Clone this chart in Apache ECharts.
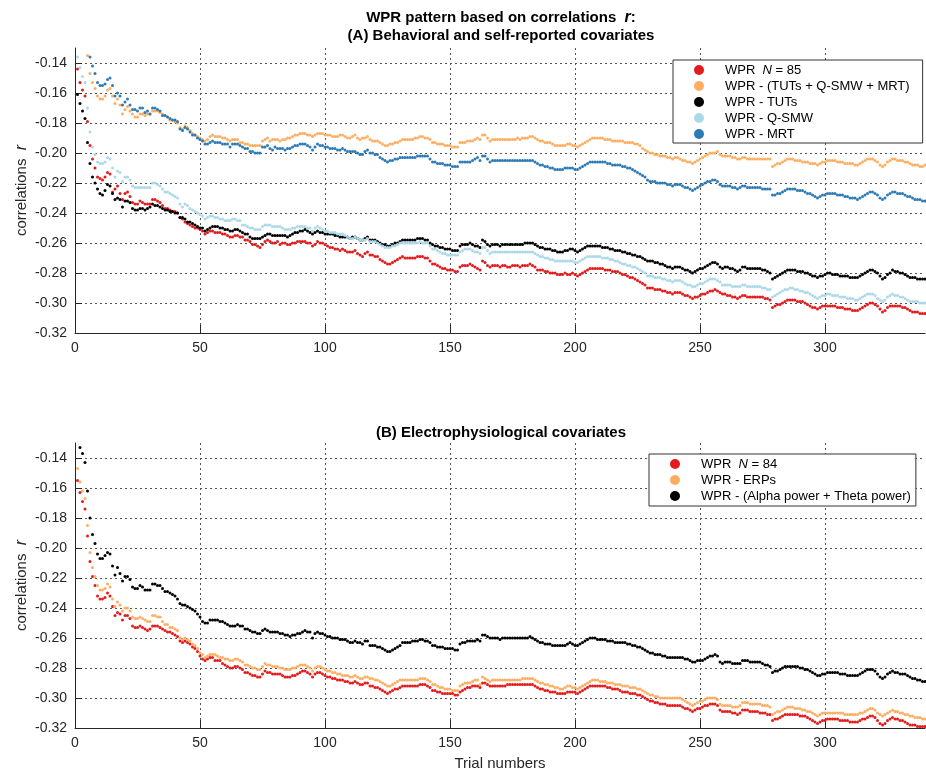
<!DOCTYPE html>
<html>
<head>
<meta charset="utf-8">
<script src="https://cdn.jsdelivr.net/npm/echarts@6/dist/echarts.min.js"></script>
<style>
html,body{margin:0;padding:0;background:#fff;}
#chart{width:926px;height:769px;}
</style>
</head>
<body>
<div id="chart"></div>
<script>
// x ticks for both panels
var xTicks = [0, 50, 100, 150, 200, 250, 300];
// y ticks for both panels
var yTicks = [-0.32, -0.30, -0.28, -0.26, -0.24, -0.22, -0.20, -0.18, -0.16, -0.14];

// (A) behavioral and self-reported covariates, trials 1..340
var namesA = ['WPR  N = 85', 'WPR - (TUTs + Q-SMW + MRT)', 'WPR - TUTs', 'WPR - Q-SMW', 'WPR - MRT'];
var redA = [
-.144,-.153,-.158,-.162,-.179,-.195,-.204,-.210,-.216,-.217,
-.218,-.216,-.213,-.214,-.226,-.224,-.222,-.227,-.231,-.227,
-.226,-.229,-.233,-.234,-.234,-.232,-.233,-.234,-.234,-.234,
-.231,-.231,-.232,-.233,-.235,-.237,-.237,-.238,-.239,-.239,
-.240,-.243,-.244,-.246,-.247,-.248,-.249,-.250,-.250,-.251,
-.252,-.254,-.253,-.252,-.252,-.253,-.253,-.253,-.254,-.254,
-.255,-.256,-.256,-.255,-.255,-.256,-.256,-.258,-.258,-.259,
-.261,-.261,-.262,-.263,-.261,-.259,-.258,-.259,-.260,-.260,
-.259,-.261,-.260,-.260,-.261,-.261,-.260,-.260,-.259,-.259,
-.259,-.259,-.260,-.260,-.262,-.261,-.259,-.260,-.260,-.261,
-.262,-.263,-.263,-.264,-.264,-.265,-.264,-.265,-.266,-.266,
-.266,-.265,-.267,-.268,-.269,-.267,-.266,-.268,-.268,-.269,
-.269,-.271,-.272,-.273,-.274,-.274,-.273,-.272,-.271,-.270,
-.269,-.270,-.270,-.270,-.270,-.270,-.269,-.269,-.269,-.270,
-.270,-.272,-.274,-.274,-.275,-.276,-.277,-.277,-.278,-.278,
-.278,-.279,-.279,-.276,-.275,-.275,-.275,-.274,-.275,-.276,
-.277,-.278,-.272,-.273,-.275,-.276,-.275,-.275,-.275,-.276,
-.275,-.275,-.276,-.276,-.275,-.275,-.275,-.276,-.275,-.275,
-.275,-.274,-.275,-.276,-.278,-.278,-.278,-.279,-.279,-.280,
-.280,-.280,-.281,-.281,-.281,-.280,-.281,-.281,-.280,-.281,
-.282,-.281,-.280,-.279,-.278,-.277,-.277,-.277,-.277,-.277,
-.277,-.278,-.278,-.278,-.279,-.279,-.279,-.280,-.281,-.281,
-.282,-.283,-.283,-.284,-.285,-.286,-.287,-.288,-.290,-.290,
-.290,-.291,-.291,-.291,-.292,-.292,-.293,-.293,-.294,-.293,
-.293,-.293,-.294,-.295,-.295,-.296,-.297,-.296,-.296,-.295,
-.294,-.294,-.293,-.292,-.292,-.291,-.292,-.293,-.294,-.294,
-.295,-.295,-.296,-.296,-.297,-.296,-.295,-.295,-.296,-.296,
-.296,-.296,-.296,-.296,-.296,-.297,-.297,-.298,-.303,-.302,
-.301,-.301,-.300,-.299,-.298,-.298,-.298,-.298,-.299,-.299,
-.299,-.300,-.301,-.302,-.303,-.303,-.304,-.303,-.302,-.302,
-.302,-.302,-.302,-.302,-.303,-.303,-.303,-.304,-.304,-.304,
-.305,-.305,-.305,-.304,-.303,-.302,-.301,-.300,-.300,-.301,
-.302,-.304,-.306,-.305,-.303,-.302,-.302,-.302,-.302,-.302,
-.303,-.303,-.304,-.305,-.306,-.306,-.306,-.307,-.307,-.307];
var allCovA = [
-.111,-.116,-.119,-.121,-.135,-.147,-.153,-.157,-.162,-.164,
-.164,-.162,-.158,-.157,-.162,-.167,-.164,-.168,-.174,-.171,
-.169,-.172,-.174,-.176,-.176,-.174,-.174,-.175,-.174,-.174,
-.172,-.172,-.172,-.173,-.174,-.175,-.176,-.178,-.178,-.179,
-.180,-.183,-.184,-.182,-.183,-.185,-.187,-.188,-.189,-.190,
-.191,-.192,-.191,-.189,-.188,-.189,-.189,-.189,-.190,-.190,
-.191,-.192,-.191,-.191,-.191,-.193,-.193,-.194,-.194,-.195,
-.195,-.195,-.195,-.195,-.192,-.191,-.190,-.192,-.191,-.191,
-.191,-.192,-.191,-.191,-.190,-.190,-.189,-.188,-.188,-.187,
-.187,-.187,-.188,-.188,-.189,-.188,-.187,-.187,-.187,-.188,
-.188,-.188,-.189,-.189,-.189,-.188,-.188,-.189,-.190,-.190,
-.189,-.188,-.190,-.191,-.190,-.190,-.189,-.191,-.192,-.192,
-.192,-.193,-.194,-.195,-.195,-.194,-.194,-.193,-.193,-.192,
-.191,-.191,-.191,-.191,-.191,-.190,-.190,-.189,-.189,-.190,
-.190,-.191,-.193,-.193,-.194,-.194,-.194,-.195,-.195,-.195,
-.196,-.196,-.196,-.193,-.193,-.193,-.192,-.192,-.192,-.191,
-.190,-.191,-.188,-.188,-.190,-.192,-.191,-.191,-.191,-.191,
-.191,-.191,-.191,-.191,-.191,-.191,-.190,-.191,-.190,-.190,
-.190,-.189,-.189,-.190,-.191,-.192,-.192,-.193,-.193,-.193,
-.194,-.195,-.195,-.195,-.195,-.195,-.194,-.194,-.195,-.195,
-.196,-.195,-.194,-.193,-.192,-.191,-.190,-.190,-.190,-.190,
-.190,-.191,-.191,-.191,-.192,-.192,-.192,-.192,-.192,-.193,
-.193,-.193,-.193,-.194,-.194,-.195,-.197,-.198,-.199,-.200,
-.200,-.201,-.201,-.202,-.202,-.202,-.203,-.203,-.204,-.203,
-.203,-.204,-.205,-.205,-.206,-.206,-.207,-.206,-.205,-.204,
-.203,-.202,-.201,-.200,-.200,-.200,-.199,-.201,-.202,-.202,
-.202,-.202,-.203,-.203,-.204,-.204,-.203,-.203,-.204,-.204,
-.204,-.204,-.204,-.204,-.204,-.204,-.204,-.204,-.209,-.208,
-.207,-.207,-.206,-.205,-.204,-.204,-.204,-.205,-.205,-.205,
-.206,-.206,-.206,-.207,-.207,-.207,-.208,-.207,-.206,-.206,
-.205,-.205,-.205,-.205,-.206,-.206,-.206,-.207,-.207,-.207,
-.207,-.208,-.208,-.207,-.206,-.205,-.204,-.204,-.204,-.205,
-.206,-.208,-.209,-.208,-.206,-.205,-.204,-.204,-.205,-.205,
-.205,-.206,-.206,-.207,-.208,-.208,-.208,-.209,-.209,-.208];
var tutsA = [
-.161,-.167,-.172,-.177,-.193,-.207,-.216,-.220,-.224,-.227,
-.228,-.225,-.221,-.222,-.227,-.231,-.230,-.231,-.236,-.232,
-.232,-.233,-.237,-.238,-.238,-.237,-.237,-.238,-.237,-.236,
-.234,-.235,-.235,-.236,-.237,-.238,-.238,-.239,-.239,-.240,
-.240,-.243,-.243,-.244,-.246,-.246,-.247,-.248,-.249,-.250,
-.250,-.252,-.251,-.250,-.249,-.249,-.249,-.250,-.250,-.251,
-.251,-.252,-.252,-.251,-.251,-.252,-.253,-.254,-.254,-.256,
-.257,-.257,-.257,-.257,-.256,-.255,-.254,-.254,-.255,-.255,
-.255,-.255,-.255,-.255,-.256,-.255,-.254,-.253,-.253,-.252,
-.252,-.251,-.252,-.253,-.254,-.253,-.252,-.253,-.253,-.254,
-.254,-.254,-.254,-.255,-.255,-.256,-.256,-.256,-.256,-.257,
-.256,-.256,-.257,-.258,-.258,-.257,-.256,-.258,-.258,-.258,
-.259,-.260,-.261,-.261,-.262,-.262,-.261,-.260,-.260,-.259,
-.258,-.258,-.258,-.258,-.258,-.258,-.257,-.257,-.257,-.258,
-.258,-.260,-.261,-.262,-.262,-.263,-.263,-.264,-.264,-.264,
-.265,-.265,-.265,-.262,-.261,-.261,-.261,-.260,-.261,-.262,
-.262,-.263,-.258,-.259,-.261,-.262,-.261,-.261,-.261,-.262,
-.261,-.261,-.261,-.261,-.261,-.261,-.261,-.261,-.261,-.260,
-.260,-.260,-.260,-.261,-.262,-.263,-.263,-.264,-.264,-.264,
-.265,-.265,-.266,-.266,-.266,-.265,-.265,-.264,-.264,-.265,
-.266,-.265,-.264,-.263,-.262,-.262,-.262,-.262,-.262,-.262,
-.263,-.263,-.263,-.264,-.264,-.265,-.265,-.265,-.266,-.266,
-.267,-.267,-.268,-.268,-.269,-.269,-.270,-.271,-.272,-.272,
-.272,-.273,-.273,-.274,-.274,-.275,-.276,-.276,-.277,-.276,
-.276,-.276,-.277,-.278,-.278,-.279,-.280,-.279,-.278,-.277,
-.277,-.276,-.275,-.274,-.273,-.273,-.274,-.276,-.277,-.276,
-.276,-.277,-.277,-.278,-.279,-.278,-.276,-.276,-.277,-.277,
-.277,-.277,-.277,-.277,-.278,-.278,-.279,-.280,-.284,-.283,
-.282,-.281,-.280,-.279,-.278,-.278,-.278,-.278,-.279,-.279,
-.279,-.280,-.280,-.281,-.282,-.282,-.283,-.282,-.282,-.281,
-.280,-.280,-.281,-.281,-.281,-.282,-.282,-.282,-.282,-.283,
-.283,-.283,-.283,-.282,-.281,-.280,-.279,-.278,-.278,-.279,
-.280,-.282,-.284,-.283,-.281,-.280,-.278,-.279,-.279,-.280,
-.280,-.281,-.282,-.283,-.283,-.283,-.284,-.284,-.284,-.284];
var qsmwA = [
-.136,-.143,-.149,-.153,-.170,-.186,-.196,-.201,-.206,-.207,
-.207,-.206,-.203,-.204,-.210,-.216,-.212,-.213,-.219,-.216,
-.216,-.218,-.222,-.223,-.223,-.223,-.223,-.223,-.223,-.223,
-.220,-.220,-.221,-.222,-.224,-.226,-.226,-.227,-.228,-.229,
-.230,-.234,-.236,-.234,-.235,-.237,-.238,-.239,-.240,-.241,
-.242,-.244,-.243,-.242,-.242,-.243,-.243,-.244,-.244,-.245,
-.245,-.245,-.244,-.244,-.245,-.245,-.248,-.248,-.249,-.250,
-.250,-.251,-.251,-.251,-.249,-.248,-.248,-.248,-.249,-.249,
-.249,-.249,-.250,-.251,-.251,-.251,-.250,-.250,-.249,-.249,
-.249,-.249,-.250,-.250,-.252,-.250,-.249,-.250,-.251,-.252,
-.252,-.253,-.253,-.253,-.254,-.254,-.254,-.255,-.256,-.257,
-.257,-.256,-.257,-.258,-.258,-.258,-.257,-.259,-.259,-.259,
-.260,-.261,-.262,-.263,-.263,-.263,-.262,-.262,-.261,-.260,
-.260,-.260,-.260,-.260,-.260,-.260,-.260,-.259,-.260,-.260,
-.260,-.262,-.264,-.264,-.265,-.266,-.267,-.267,-.268,-.268,
-.268,-.268,-.268,-.266,-.265,-.264,-.264,-.264,-.265,-.266,
-.266,-.267,-.263,-.263,-.265,-.267,-.266,-.266,-.266,-.266,
-.266,-.266,-.266,-.266,-.266,-.266,-.266,-.266,-.266,-.266,
-.266,-.266,-.266,-.267,-.268,-.269,-.269,-.270,-.270,-.271,
-.271,-.272,-.272,-.272,-.272,-.272,-.272,-.272,-.272,-.273,
-.273,-.272,-.271,-.270,-.269,-.269,-.269,-.269,-.269,-.269,
-.270,-.270,-.270,-.271,-.271,-.272,-.272,-.273,-.274,-.274,
-.275,-.275,-.276,-.276,-.277,-.278,-.279,-.280,-.282,-.282,
-.282,-.283,-.283,-.283,-.284,-.284,-.285,-.285,-.286,-.285,
-.285,-.285,-.286,-.287,-.288,-.288,-.289,-.289,-.288,-.287,
-.287,-.286,-.285,-.284,-.284,-.284,-.285,-.286,-.288,-.288,
-.288,-.288,-.289,-.289,-.289,-.289,-.288,-.288,-.289,-.289,
-.289,-.289,-.289,-.289,-.290,-.290,-.291,-.291,-.296,-.295,
-.294,-.293,-.292,-.291,-.291,-.290,-.290,-.291,-.291,-.292,
-.292,-.293,-.293,-.294,-.295,-.296,-.297,-.296,-.295,-.295,
-.294,-.294,-.295,-.295,-.295,-.296,-.296,-.296,-.297,-.297,
-.297,-.298,-.298,-.297,-.296,-.295,-.294,-.294,-.294,-.295,
-.297,-.298,-.299,-.298,-.296,-.295,-.294,-.295,-.295,-.296,
-.296,-.297,-.298,-.299,-.299,-.299,-.299,-.300,-.300,-.300];
var mrtA = [
-.107,-.113,-.116,-.119,-.126,-.136,-.142,-.147,-.153,-.155,
-.155,-.154,-.151,-.150,-.155,-.162,-.160,-.162,-.168,-.166,
-.164,-.168,-.171,-.171,-.172,-.170,-.170,-.173,-.172,-.174,
-.170,-.170,-.171,-.172,-.175,-.175,-.176,-.177,-.178,-.178,
-.179,-.184,-.185,-.183,-.184,-.186,-.188,-.188,-.190,-.191,
-.192,-.194,-.194,-.193,-.192,-.193,-.193,-.193,-.194,-.194,
-.194,-.196,-.194,-.194,-.194,-.195,-.196,-.197,-.197,-.199,
-.199,-.200,-.200,-.200,-.196,-.196,-.195,-.197,-.198,-.196,
-.197,-.197,-.197,-.198,-.197,-.197,-.196,-.195,-.195,-.194,
-.194,-.194,-.195,-.196,-.198,-.196,-.194,-.195,-.195,-.196,
-.196,-.197,-.197,-.197,-.198,-.198,-.197,-.198,-.199,-.199,
-.199,-.199,-.200,-.201,-.201,-.199,-.198,-.200,-.200,-.201,
-.201,-.203,-.204,-.205,-.206,-.205,-.205,-.204,-.204,-.203,
-.203,-.203,-.203,-.203,-.203,-.203,-.202,-.202,-.202,-.202,
-.202,-.204,-.206,-.206,-.207,-.207,-.207,-.208,-.208,-.208,
-.209,-.209,-.209,-.206,-.206,-.206,-.206,-.206,-.205,-.204,
-.203,-.205,-.202,-.202,-.204,-.206,-.205,-.205,-.205,-.205,
-.205,-.205,-.205,-.205,-.205,-.205,-.205,-.205,-.205,-.205,
-.205,-.205,-.205,-.206,-.207,-.208,-.208,-.209,-.209,-.210,
-.210,-.211,-.211,-.211,-.211,-.210,-.210,-.210,-.210,-.211,
-.211,-.210,-.209,-.208,-.207,-.206,-.206,-.206,-.206,-.206,
-.206,-.206,-.207,-.207,-.208,-.208,-.208,-.208,-.209,-.209,
-.210,-.210,-.211,-.212,-.213,-.214,-.215,-.216,-.218,-.219,
-.219,-.219,-.220,-.220,-.220,-.220,-.221,-.221,-.222,-.221,
-.221,-.221,-.222,-.223,-.223,-.224,-.225,-.224,-.223,-.222,
-.221,-.220,-.219,-.219,-.218,-.218,-.219,-.221,-.222,-.222,
-.222,-.222,-.223,-.223,-.224,-.223,-.222,-.222,-.223,-.223,
-.223,-.223,-.223,-.223,-.224,-.224,-.224,-.224,-.228,-.228,
-.227,-.227,-.226,-.225,-.224,-.224,-.224,-.224,-.225,-.225,
-.225,-.226,-.227,-.227,-.228,-.229,-.230,-.229,-.228,-.228,
-.227,-.227,-.227,-.227,-.228,-.228,-.228,-.229,-.229,-.230,
-.230,-.230,-.231,-.230,-.229,-.228,-.227,-.226,-.226,-.227,
-.228,-.230,-.231,-.230,-.228,-.227,-.226,-.226,-.227,-.227,
-.227,-.228,-.229,-.229,-.230,-.231,-.231,-.231,-.232,-.232];

// (B) electrophysiological covariates, trials 1..340
var namesB = ['WPR  N = 84', 'WPR - ERPs', 'WPR - (Alpha power + Theta power)'];
var redB = [
-.155,-.163,-.169,-.174,-.192,-.209,-.219,-.225,-.232,-.234,
-.234,-.233,-.230,-.232,-.239,-.245,-.243,-.244,-.248,-.245,
-.245,-.247,-.252,-.253,-.253,-.252,-.253,-.254,-.255,-.254,
-.252,-.252,-.252,-.253,-.254,-.255,-.256,-.256,-.257,-.258,
-.259,-.262,-.263,-.262,-.263,-.264,-.266,-.267,-.269,-.272,
-.274,-.275,-.274,-.273,-.273,-.275,-.275,-.275,-.277,-.278,
-.279,-.280,-.280,-.279,-.279,-.280,-.281,-.283,-.283,-.284,
-.285,-.285,-.286,-.286,-.284,-.282,-.283,-.283,-.284,-.284,
-.284,-.284,-.285,-.286,-.286,-.286,-.285,-.285,-.284,-.283,
-.282,-.282,-.283,-.284,-.286,-.284,-.283,-.283,-.284,-.285,
-.286,-.286,-.287,-.287,-.288,-.288,-.288,-.289,-.289,-.290,
-.290,-.289,-.290,-.291,-.291,-.290,-.290,-.292,-.292,-.293,
-.293,-.294,-.295,-.296,-.297,-.296,-.295,-.294,-.294,-.293,
-.292,-.292,-.292,-.292,-.292,-.292,-.292,-.291,-.291,-.291,
-.292,-.293,-.295,-.295,-.296,-.296,-.297,-.297,-.297,-.297,
-.297,-.298,-.298,-.296,-.295,-.294,-.293,-.293,-.292,-.292,
-.292,-.293,-.290,-.290,-.291,-.292,-.292,-.292,-.292,-.292,
-.292,-.292,-.291,-.291,-.291,-.291,-.291,-.291,-.291,-.291,
-.291,-.291,-.291,-.292,-.293,-.294,-.294,-.295,-.295,-.296,
-.296,-.296,-.297,-.297,-.297,-.297,-.296,-.296,-.296,-.296,
-.297,-.296,-.295,-.294,-.293,-.292,-.292,-.292,-.292,-.292,
-.292,-.292,-.293,-.293,-.294,-.294,-.294,-.295,-.296,-.296,
-.296,-.297,-.297,-.297,-.298,-.298,-.299,-.300,-.301,-.302,
-.302,-.303,-.303,-.304,-.304,-.304,-.305,-.305,-.305,-.305,
-.305,-.305,-.306,-.307,-.307,-.308,-.309,-.308,-.307,-.307,
-.306,-.305,-.305,-.304,-.304,-.304,-.305,-.308,-.309,-.309,
-.309,-.309,-.310,-.310,-.311,-.310,-.308,-.308,-.308,-.309,
-.309,-.309,-.309,-.310,-.310,-.310,-.311,-.311,-.315,-.314,
-.314,-.313,-.312,-.311,-.311,-.311,-.311,-.311,-.311,-.312,
-.312,-.312,-.313,-.314,-.315,-.316,-.317,-.316,-.315,-.315,
-.314,-.314,-.314,-.314,-.314,-.315,-.315,-.315,-.315,-.316,
-.316,-.316,-.316,-.315,-.314,-.314,-.313,-.312,-.312,-.313,
-.315,-.317,-.318,-.317,-.315,-.314,-.313,-.314,-.314,-.315,
-.315,-.316,-.317,-.318,-.318,-.318,-.319,-.319,-.319,-.319];
var erpB = [
-.147,-.156,-.162,-.167,-.185,-.203,-.213,-.219,-.225,-.228,
-.228,-.227,-.224,-.226,-.234,-.239,-.236,-.238,-.242,-.240,
-.240,-.242,-.246,-.247,-.247,-.246,-.247,-.248,-.249,-.249,
-.245,-.245,-.246,-.246,-.249,-.251,-.251,-.253,-.253,-.254,
-.255,-.260,-.261,-.260,-.261,-.262,-.264,-.265,-.267,-.270,
-.271,-.273,-.272,-.271,-.271,-.271,-.272,-.273,-.273,-.274,
-.274,-.275,-.275,-.274,-.274,-.275,-.276,-.278,-.278,-.279,
-.280,-.280,-.281,-.281,-.279,-.277,-.278,-.278,-.279,-.279,
-.279,-.280,-.280,-.281,-.281,-.281,-.280,-.280,-.279,-.278,
-.278,-.278,-.279,-.280,-.282,-.280,-.279,-.279,-.280,-.281,
-.282,-.282,-.283,-.283,-.284,-.284,-.285,-.285,-.285,-.286,
-.286,-.285,-.286,-.287,-.287,-.286,-.286,-.287,-.287,-.288,
-.288,-.289,-.290,-.291,-.292,-.292,-.291,-.290,-.289,-.288,
-.288,-.288,-.288,-.288,-.288,-.288,-.288,-.287,-.287,-.287,
-.288,-.289,-.291,-.291,-.292,-.293,-.293,-.294,-.294,-.294,
-.295,-.295,-.295,-.292,-.291,-.290,-.290,-.290,-.289,-.288,
-.288,-.291,-.286,-.287,-.288,-.289,-.288,-.288,-.288,-.288,
-.288,-.288,-.288,-.288,-.288,-.288,-.288,-.288,-.287,-.287,
-.287,-.287,-.287,-.288,-.289,-.290,-.290,-.291,-.291,-.292,
-.292,-.293,-.293,-.294,-.294,-.293,-.292,-.292,-.293,-.293,
-.294,-.293,-.292,-.291,-.290,-.289,-.288,-.288,-.288,-.289,
-.289,-.289,-.290,-.290,-.290,-.291,-.291,-.291,-.292,-.292,
-.292,-.293,-.293,-.293,-.294,-.294,-.295,-.296,-.297,-.298,
-.298,-.299,-.299,-.300,-.300,-.300,-.300,-.300,-.300,-.300,
-.300,-.300,-.301,-.302,-.303,-.304,-.305,-.304,-.303,-.302,
-.302,-.301,-.300,-.300,-.300,-.300,-.301,-.304,-.305,-.305,
-.305,-.305,-.306,-.306,-.306,-.305,-.303,-.303,-.303,-.304,
-.304,-.304,-.304,-.304,-.305,-.305,-.305,-.306,-.311,-.310,
-.309,-.309,-.308,-.307,-.306,-.306,-.306,-.307,-.307,-.307,
-.308,-.308,-.309,-.309,-.310,-.311,-.312,-.311,-.310,-.310,
-.310,-.310,-.310,-.310,-.310,-.310,-.310,-.311,-.311,-.311,
-.311,-.311,-.311,-.310,-.310,-.309,-.308,-.307,-.307,-.308,
-.310,-.311,-.312,-.311,-.310,-.309,-.308,-.309,-.309,-.310,
-.310,-.311,-.311,-.312,-.312,-.313,-.313,-.313,-.314,-.314];
var powerB = [
-.124,-.133,-.137,-.143,-.162,-.180,-.191,-.197,-.204,-.207,
-.207,-.205,-.203,-.204,-.212,-.218,-.213,-.217,-.222,-.219,
-.219,-.221,-.226,-.227,-.227,-.225,-.226,-.228,-.228,-.228,
-.224,-.224,-.225,-.225,-.227,-.229,-.229,-.230,-.231,-.232,
-.234,-.237,-.238,-.238,-.239,-.240,-.241,-.242,-.244,-.246,
-.249,-.250,-.250,-.248,-.248,-.248,-.248,-.249,-.249,-.250,
-.251,-.252,-.252,-.252,-.251,-.252,-.252,-.254,-.254,-.255,
-.256,-.256,-.257,-.257,-.255,-.254,-.255,-.256,-.256,-.256,
-.256,-.257,-.257,-.258,-.258,-.259,-.258,-.258,-.257,-.257,
-.256,-.255,-.256,-.256,-.260,-.257,-.256,-.257,-.257,-.258,
-.259,-.259,-.260,-.260,-.260,-.261,-.261,-.261,-.262,-.263,
-.263,-.262,-.263,-.263,-.264,-.262,-.262,-.265,-.265,-.265,
-.266,-.266,-.267,-.268,-.269,-.269,-.268,-.267,-.266,-.265,
-.263,-.263,-.263,-.263,-.262,-.262,-.262,-.261,-.261,-.262,
-.262,-.263,-.265,-.265,-.266,-.266,-.266,-.267,-.267,-.267,
-.267,-.268,-.268,-.264,-.263,-.263,-.262,-.262,-.262,-.262,
-.261,-.262,-.258,-.258,-.259,-.260,-.260,-.260,-.260,-.261,
-.260,-.260,-.260,-.260,-.260,-.260,-.260,-.260,-.260,-.260,
-.260,-.259,-.260,-.261,-.262,-.263,-.263,-.264,-.264,-.264,
-.265,-.265,-.265,-.265,-.265,-.265,-.264,-.263,-.264,-.265,
-.265,-.264,-.263,-.262,-.261,-.260,-.260,-.260,-.261,-.261,
-.261,-.261,-.262,-.262,-.262,-.263,-.263,-.263,-.263,-.263,
-.264,-.264,-.265,-.265,-.266,-.266,-.267,-.268,-.269,-.270,
-.270,-.271,-.271,-.271,-.272,-.272,-.273,-.273,-.273,-.273,
-.273,-.273,-.273,-.274,-.274,-.275,-.276,-.276,-.275,-.275,
-.275,-.274,-.273,-.272,-.272,-.271,-.272,-.276,-.277,-.276,
-.276,-.276,-.277,-.277,-.277,-.277,-.275,-.275,-.275,-.276,
-.276,-.276,-.276,-.276,-.277,-.278,-.278,-.279,-.283,-.282,
-.282,-.281,-.280,-.279,-.279,-.279,-.279,-.279,-.279,-.280,
-.280,-.281,-.281,-.282,-.283,-.284,-.285,-.285,-.284,-.284,
-.283,-.283,-.283,-.283,-.283,-.284,-.284,-.284,-.285,-.285,
-.285,-.285,-.285,-.284,-.283,-.282,-.281,-.281,-.281,-.282,
-.284,-.286,-.287,-.286,-.284,-.283,-.282,-.283,-.283,-.284,
-.284,-.284,-.285,-.286,-.287,-.287,-.288,-.288,-.289,-.289];

var colorsA = ['#e41a1c', '#fdae61', '#000000', '#abd9e9', '#2c7bb6'];
var colorsB = ['#e41a1c', '#fdae61', '#000000'];
var FONT = 'Arial, "Liberation Sans", Helvetica, sans-serif';

function toPoints(vals){
	return vals.map(function(v, i){ return [i + 1, v]; });
}
function legendText(name){
	var m = name.match(/^WPR  N = (\d+)$/);
	if(m){
		return '{g|}{t|WPR  }{i|N}{t| = ' + m[1] + '}';
	}
	return '{g|}{t|' + name + '}';
}
function xAxisOpt(idx, withName){
	return {
		type: 'value', gridIndex: idx, min: 0, max: 340, interval: 50,
		name: withName ? 'Trial numbers' : '', nameLocation: 'middle', nameGap: 28,
		nameMoveOverlap: false,
		nameTextStyle: {fontFamily: FONT, fontSize: 15, color: '#262626'},
		axisLine: {show: true, lineStyle: {color: '#262626', width: 1}},
		axisTick: {show: true, inside: true, length: 8, lineStyle: {color: '#262626'}},
		axisLabel: {showMaxLabel: false, fontFamily: FONT, fontSize: 14, color: '#262626', margin: 8},
		splitLine: {show: true, showMinLine: false, showMaxLine: false, lineStyle: {color: '#555', type: [2, 3], width: 1}}
	};
}
function yAxisOpt(idx){
	return {
		type: 'value', gridIndex: idx, min: -0.32, max: -0.13, interval: 0.02,
		name: '{n|correlations  }{i|r}', nameLocation: 'middle', nameGap: 45,
		nameMoveOverlap: false,
		nameTextStyle: {fontFamily: FONT, fontSize: 15, color: '#262626',
			rich: {
				n: {fontFamily: FONT, fontSize: 15, color: '#262626'},
				i: {fontFamily: FONT, fontSize: 16, color: '#262626', fontStyle: 'italic'}
			}},
		axisLine: {show: true, lineStyle: {color: '#262626', width: 1}},
		axisTick: {show: true, inside: true, length: 7, lineStyle: {color: '#262626'}},
		axisLabel: {showMaxLabel: false, fontFamily: FONT, fontSize: 14, color: '#262626', margin: 8,
			formatter: function(v){ return v.toFixed(2); }},
		splitLine: {show: true, showMinLine: false, showMaxLine: false, lineStyle: {color: '#555', type: [2, 3], width: 1}}
	};
}
function legendOpt(names, left, top, padding){
	return {
		data: names, orient: 'vertical', left: left, top: top, padding: padding,
		itemWidth: 10, itemHeight: 10, itemGap: 0, icon: 'circle',
		backgroundColor: '#fff', borderColor: '#333', borderWidth: 1,
		selectedMode: false,
		formatter: legendText,
		itemStyle: {opacity: 1},
		textStyle: {fontFamily: FONT, fontSize: 13, color: '#000', lineHeight: 16,
			rich: {
				g: {width: 16},
				t: {fontFamily: FONT, fontSize: 13, color: '#000', lineHeight: 16},
				i: {fontFamily: FONT, fontSize: 13, color: '#000', lineHeight: 16, fontStyle: 'italic'}
			}}
	};
}
function scatter(name, vals, color, idx){
	return {
		type: 'scatter', name: name, xAxisIndex: idx, yAxisIndex: idx,
		data: toPoints(vals), symbol: 'circle', symbolSize: 3,
		itemStyle: {color: color, opacity: 1}, clip: true, silent: true, animation: false
	};
}

var chart = echarts.init(document.getElementById('chart'), null, {renderer: 'canvas'});
var seriesA = [redA, allCovA, tutsA, qsmwA, mrtA];
var seriesB = [redB, erpB, powerB];
var series = [];
seriesA.forEach(function(vals, k){ series.push(scatter(namesA[k], vals, colorsA[k], 0)); });
seriesB.forEach(function(vals, k){ series.push(scatter(namesB[k], vals, colorsB[k], 1)); });

chart.setOption({
	backgroundColor: '#fff',
	animation: false,
	grid: [
		{left: 75, top: 48, width: 850, height: 285, outerBoundsMode: 'none'},
		{left: 75, top: 443, width: 850, height: 285, outerBoundsMode: 'none'}
	],
	xAxis: [xAxisOpt(0, false), xAxisOpt(1, true)],
	yAxis: [yAxisOpt(0), yAxisOpt(1)],
	legend: [
		legendOpt(namesA, 673, 60, [2, 13, 1, 21]),
		legendOpt(namesB, 649, 454, [2, 5, 2, 21])
	],
	graphic: [
		{type: 'text', x: 501, y: 27, style: {
			text: '{b|WPR pattern based on correlations  }{bi|r}{b|:}\n{b|(A) Behavioral and self-reported covariates}',
			align: 'center', verticalAlign: 'middle',
			rich: {
				b: {fontFamily: FONT, fontSize: 15, fontWeight: 'bold', fill: '#000', lineHeight: 18},
				bi: {fontFamily: FONT, fontSize: 16, fontWeight: 'bold', fontStyle: 'italic', fill: '#000', lineHeight: 18}
			}
		}},
		{type: 'text', x: 501, y: 433, style: {
			text: '(B) Electrophysiological covariates',
			align: 'center', verticalAlign: 'middle',
			fontFamily: FONT, fontSize: 15, fontWeight: 'bold', fill: '#000'
		}}
	],
	series: series
});
</script>
</body>
</html>
